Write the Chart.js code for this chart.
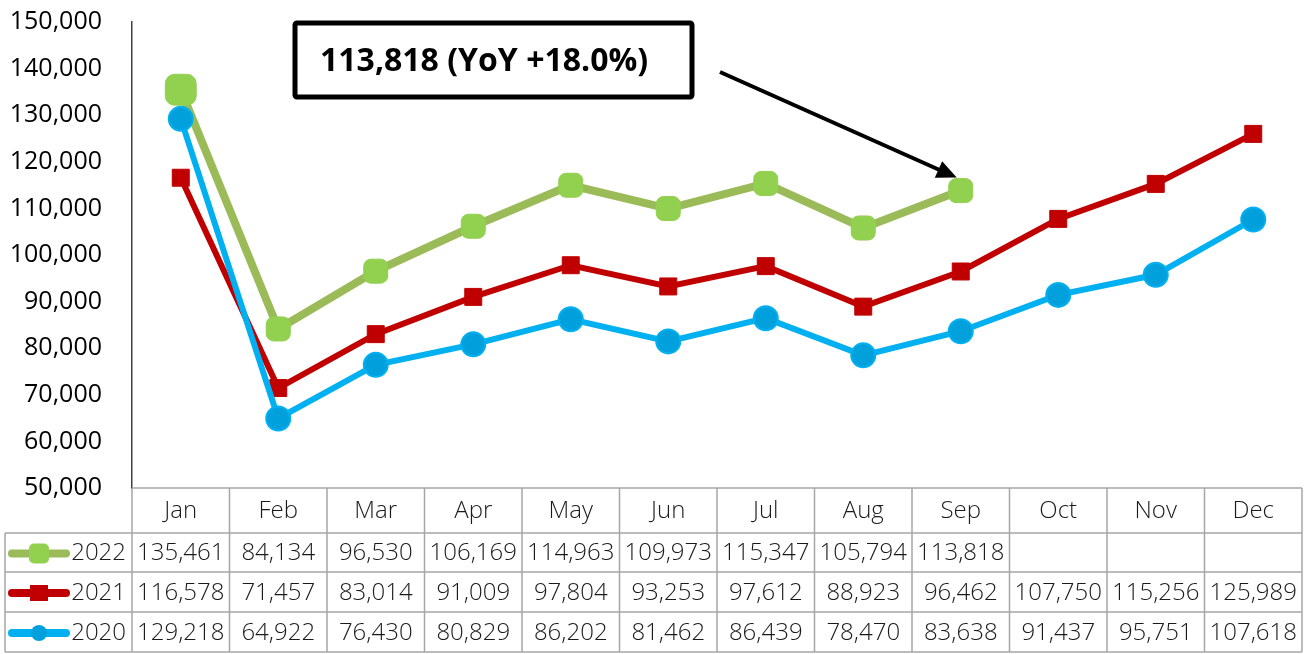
<!DOCTYPE html>
<html>
<head>
<meta charset="utf-8">
<script src="https://cdn.jsdelivr.net/npm/chart.js@4/dist/chart.umd.min.js"></script>
<style>
  html, body { margin: 0; padding: 0; background: #fff; }
  #wrap { width: 1307px; height: 654px; position: relative; }
</style>
</head>
<body>
<div id="wrap"><canvas id="chart"></canvas></div>
<script>
// Dados
const months = ['Jan', 'Feb', 'Mar', 'Apr', 'May', 'Jun', 'Jul', 'Aug', 'Sep', 'Oct', 'Nov', 'Dec'];
const sales2022 = [135461, 84134, 96530, 106169, 114963, 109973, 115347, 105794, 113818, null, null, null];
const sales2021 = [116578, 71457, 83014, 91009, 97804, 93253, 97612, 88923, 96462, 107750, 115256, 125989];
const sales2020 = [129218, 64922, 76430, 80829, 86202, 81462, 86439, 78470, 83638, 91437, 95751, 107618];
const annotationText = '113,818 (YoY +18.0%)';

const fmt = v => v.toLocaleString('en-US');
const FONT = '"Open Sans", "DejaVu Sans", sans-serif';

// Tabela de dados abaixo do gráfico
const tablePlugin = {
  id: 'dataTable',
  afterDraw(chart) {
    const ctx = chart.ctx;
    const x = chart.scales.x;
    const area = chart.chartArea;
    const colW = x.getPixelForValue(1) - x.getPixelForValue(0);
    const top = area.bottom;
    const rows = [top, top + 45, top + 84, top + 124, top + 164];
    const left = 5;
    const ds = chart.data.datasets;

    ctx.save();
    ctx.strokeStyle = '#a6a6a6';
    ctx.lineWidth = 1.5;
    // linhas horizontais
    ctx.beginPath();
    ctx.moveTo(area.left, rows[0]); ctx.lineTo(area.right, rows[0]);
    for (let r = 1; r < rows.length; r++) {
      ctx.moveTo(left, rows[r]); ctx.lineTo(area.right, rows[r]);
    }
    // linhas verticais
    ctx.moveTo(left, rows[1]); ctx.lineTo(left, rows[4]);
    for (let i = 0; i <= months.length; i++) {
      const px = x.getPixelForValue(0) - colW / 2 + i * colW;
      ctx.moveTo(px, rows[0]); ctx.lineTo(px, rows[4]);
    }
    ctx.stroke();

    ctx.fillStyle = '#1a1a1a';
    ctx.font = '300 24px ' + FONT;
    ctx.textAlign = 'center';
    ctx.textBaseline = 'middle';
    months.forEach((m, i) => {
      ctx.fillText(m, x.getPixelForValue(i), (rows[0] + rows[1]) / 2 + 1);
    });

    ds.forEach((d, r) => {
      const cy = (rows[r + 1] + rows[r + 2]) / 2 + 1;
      d.data.forEach((v, i) => {
        if (v == null) return;
        ctx.fillText(fmt(v), x.getPixelForValue(i), cy);
      });
      // legenda
      ctx.strokeStyle = d.borderColor;
      ctx.lineWidth = 8;
      ctx.lineCap = 'round';
      ctx.beginPath();
      ctx.moveTo(12, cy); ctx.lineTo(66, cy);
      ctx.stroke();
      ctx.fillStyle = d.pointBackgroundColor;
      if (d.pointStyle === 'circle') {
        ctx.beginPath(); ctx.arc(39, cy, 8, 0, Math.PI * 2); ctx.fill();
      } else if (d.pointStyle === 'rect') {
        ctx.fillRect(30, cy - 8, 18, 16);
      } else {
        ctx.beginPath(); ctx.roundRect(29, cy - 10, 20, 20, 5); ctx.fill();
      }
      ctx.fillStyle = '#1a1a1a';
      ctx.textAlign = 'right';
      ctx.fillText(d.label, area.left - 6, cy);
      ctx.textAlign = 'center';
    });
    ctx.restore();
  }
};

// Caixa de anotação com seta
const annotationPlugin = {
  id: 'yoyNote',
  afterDraw(chart) {
    const ctx = chart.ctx;
    const meta = chart.getDatasetMeta(0);
    const pt = meta.data[8];
    ctx.save();
    ctx.strokeStyle = '#000';
    ctx.lineWidth = 5;
    ctx.beginPath();
    ctx.roundRect(295, 23, 397, 74, 2);
    ctx.stroke();
    ctx.fillStyle = '#000';
    ctx.font = 'bold 32px ' + FONT;
    ctx.textBaseline = 'middle';
    ctx.fillText(annotationText, 320, 62);

    ctx.lineWidth = 4;
    const sx = 720, sy = 72;
    const ex = pt.x - 4, ey = pt.y - 13;
    const ang = Math.atan2(ey - sy, ex - sx);
    ctx.beginPath();
    ctx.moveTo(sx, sy);
    ctx.lineTo(ex - 12 * Math.cos(ang), ey - 12 * Math.sin(ang));
    ctx.stroke();
    ctx.beginPath();
    ctx.moveTo(ex, ey);
    ctx.lineTo(ex - 20 * Math.cos(ang) + 9 * Math.sin(ang), ey - 20 * Math.sin(ang) - 9 * Math.cos(ang));
    ctx.lineTo(ex - 20 * Math.cos(ang) - 9 * Math.sin(ang), ey - 20 * Math.sin(ang) + 9 * Math.cos(ang));
    ctx.closePath();
    ctx.fill();
    ctx.restore();
  }
};

const ctx = document.getElementById('chart').getContext('2d');
new Chart(ctx, {
  type: 'line',
  data: {
    labels: months,
    datasets: [
      {
        label: '2022',
        data: sales2022,
        borderColor: '#9bbb59',
        borderWidth: 8,
        pointStyle: 'rectRounded',
        pointRadius: [18, 14, 14, 14, 14, 14, 14, 14, 14],
        pointBackgroundColor: '#92d050',
        pointBorderColor: '#92d050',
        pointBorderWidth: 1,
        order: 3
      },
      {
        label: '2021',
        data: sales2021,
        borderColor: '#c00000',
        borderWidth: 6,
        pointStyle: 'rect',
        pointRadius: 12,
        pointBackgroundColor: '#c00000',
        pointBorderColor: '#c00000',
        pointBorderWidth: 1,
        order: 2
      },
      {
        label: '2020',
        data: sales2020,
        borderColor: '#00b0f0',
        borderWidth: 6,
        pointStyle: 'circle',
        pointRadius: 12,
        pointBackgroundColor: '#00a0dc',
        pointBorderColor: '#00b0f0',
        pointBorderWidth: 2,
        order: 1
      }
    ]
  },
  options: {
    responsive: true,
    maintainAspectRatio: false,
    animation: false,
    layout: { autoPadding: false, padding: { top: 22, right: 5, left: 0, bottom: 0 } },
    plugins: {
      legend: { display: false },
      tooltip: { enabled: false }
    },
    scales: {
      x: {
        offset: true,
        grid: { display: false },
        border: { display: false },
        ticks: { display: false },
        afterFit(scale) {
          scale.height = 166;
          scale.paddingLeft = 0;
          scale.paddingRight = 0;
        }
      },
      y: {
        min: 50000,
        max: 150000,
        grid: { display: false },
        border: { display: true, color: '#404040', width: 1.5 },
        ticks: {
          stepSize: 10000,
          color: '#000',
          padding: 22,
          font: { family: FONT, size: 25 },
          callback: v => fmt(v)
        },
        afterFit(scale) {
          scale.width = 132;
          scale.paddingTop = 0;
          scale.paddingBottom = 0;
        }
      }
    }
  },
  plugins: [tablePlugin, annotationPlugin]
});
</script>
</body>
</html>
